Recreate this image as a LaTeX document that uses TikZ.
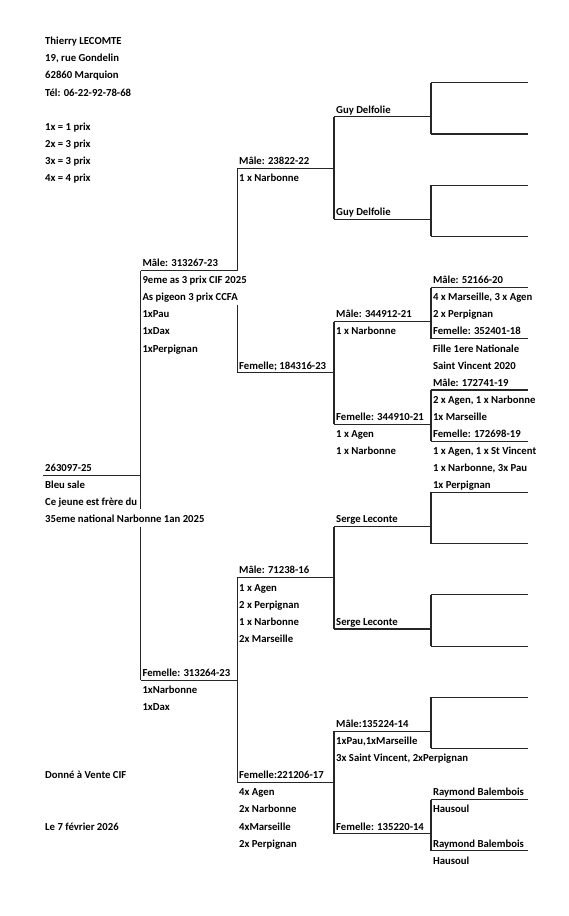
\documentclass[tikz,border=0pt]{standalone}
\usepackage{fontspec}
\setmainfont{Carlito}
\begin{document}
\begin{tikzpicture}[x=1pt,y=-1pt,
  lbl/.style={anchor=base west,inner sep=0pt,font=\fontsize{10.7}{12}\selectfont\bfseries},
  ln/.style={line width=1.1pt,draw=black!85}]
\fill[white] (0,0) rectangle (569,916);
\useasboundingbox (0,0) rectangle (569,916);
\newcommand\txt[4]{\node[lbl] (#1) at (#2,{44.8+17.07*#3}) {#4};}
\newcommand\pt[3]{\coordinate (#1) at (#2,{48.6+17.07*#3});}
% ---------- coordinates of lines
\pt{s}{43.3}{25}
\pt{p}{140.7}{13} \pt{m}{140.7}{37}
\pt{gpa}{140.7}{27} \pt{gpb}{140.7}{28}
\pt{pp}{237.3}{7} \pt{pm}{237.3}{19} \pt{mp}{237.3}{31} \pt{mm}{237.3}{43}
\pt{gqa}{237.3}{13} \pt{gqb}{237.3}{15}
\pt{ppp}{334}{4} \pt{ppm}{334}{10} \pt{pmp}{334}{16} \pt{pmm}{334}{22}
\pt{mpp}{334}{28} \pt{mpm}{334}{34} \pt{mmp}{334}{40} \pt{mmm}{334}{46}
\foreach \k in {1,...,16}{\pgfmathtruncatemacro\r{2+3*(\k-1)}\pt{g\k}{431}{\r}}
\coordinate (e) at (528,0);
% ---------- connectors
\draw[ln] (s) -- (s -| p);
\draw[ln] (p) -- (gpa) (gpb) -- (m);
\draw[ln] (p) -- (p -| pp) (m) -- (m -| mp);
\draw[ln] (pp) -- (gqa) (gqb) -- (pm);
\draw[ln] (mp) -- (mm);
\foreach \a/\b in {pp/ppp,pm/pmp,mp/mpp,mm/mmp}{\draw[ln] (\a) -- (\a -| \b);}
\foreach \a/\b in {ppp/ppm,pmp/pmm,mpp/mpm,mmp/mmm}{\draw[ln] (\a) -- (\b);}
\foreach \a/\b in {ppp/g1,ppm/g3,pmp/g5,pmm/g7,mpp/g9,mpm/g11,mmp/g13,mmm/g15}{\draw[ln] (\a) -- (\a -| \b);}
\foreach \a/\b in {g1/g2,g3/g4,g5/g6,g7/g8,g9/g10,g11/g12,g13/g14,g15/g16}{\draw[ln] (\a) -- (\b);}
\foreach \k in {1,...,16}{\draw[ln] (g\k) -- (g\k -| e);}
% ---------- column 0
\txt{t0}{45}{0}{Thierry LECOMTE}
\txt{t1}{45}{1}{19, rue Gondelin}
\txt{t2}{45}{2}{62860 Marquion}
\txt{t3}{45}{3}{Tél: 06-22-92-78-68}
\txt{t5}{45}{5}{1x = 1 prix}
\txt{t6}{45}{6}{2x = 3 prix}
\txt{t7}{45}{7}{3x = 3 prix}
\txt{t8}{45}{8}{4x = 4 prix}
\txt{s0}{45}{25}{263097-25}
\txt{s1}{45}{26}{Bleu sale}
\txt{s2}{45}{27}{Ce jeune est frère du}
\txt{s3}{45}{28}{35eme national Narbonne 1an 2025}
\txt{d1}{45}{43}{Donné à Vente CIF}
\txt{d2}{45}{46}{Le 7 février 2026}
% ---------- column 1
\txt{p0}{142.3}{13}{Mâle: 313267-23}
\txt{p1}{142.3}{14}{9eme as 3 prix CIF 2025}
\txt{p2}{142.3}{15}{As pigeon 3 prix CCFA}
\txt{p3}{142.3}{16}{1xPau}
\txt{p4}{142.3}{17}{1xDax}
\txt{p5}{142.3}{18}{1xPerpignan}
\txt{m0}{142.3}{37}{Femelle: 313264-23}
\txt{m1}{142.3}{38}{1xNarbonne}
\txt{m2}{142.3}{39}{1xDax}
% ---------- column 2
\txt{pp0}{239}{7}{Mâle: 23822-22}
\txt{pp1}{239}{8}{1 x Narbonne}
\txt{pm0}{239}{19}{Femelle; 184316-23}
\txt{mp0}{239}{31}{Mâle: 71238-16}
\txt{mp1}{239}{32}{1 x Agen}
\txt{mp2}{239}{33}{2 x Perpignan}
\txt{mp3}{239}{34}{1 x Narbonne}
\txt{mp4}{239}{35}{2x Marseille}
\txt{mm0}{239}{43}{Femelle:221206-17}
\txt{mm1}{239}{44}{4x Agen}
\txt{mm2}{239}{45}{2x Narbonne}
\txt{mm3}{239}{46}{4xMarseille}
\txt{mm4}{239}{47}{2x Perpignan}
% ---------- column 3
\txt{ppp0}{336}{4}{Guy Delfolie}
\txt{ppm0}{336}{10}{Guy Delfolie}
\txt{pmp0}{336}{16}{Mâle: 344912-21}
\txt{pmp1}{336}{17}{1 x Narbonne}
\txt{pmm0}{336}{22}{Femelle: 344910-21}
\txt{pmm1}{336}{23}{1 x Agen}
\txt{pmm2}{336}{24}{1 x Narbonne}
\txt{mpp0}{336}{28}{Serge Leconte}
\txt{mpm0}{336}{34}{Serge Leconte}
\txt{mmp0}{336}{40}{Mâle:135224-14}
\txt{mmp1}{336}{41}{1xPau,1xMarseille}
\txt{mmp2}{336}{42}{3x Saint Vincent, 2xPerpignan}
\txt{mmm0}{336}{46}{Femelle: 135220-14}
% ---------- column 4
\txt{q0}{432.8}{14}{Mâle: 52166-20}
\txt{q1}{432.8}{15}{4 x Marseille, 3 x Agen}
\txt{q2}{432.8}{16}{2 x Perpignan}
\txt{q3}{432.8}{17}{Femelle: 352401-18}
\txt{q4}{432.8}{18}{Fille 1ere Nationale}
\txt{q5}{432.8}{19}{Saint Vincent 2020}
\txt{q6}{432.8}{20}{Mâle: 172741-19}
\txt{q7}{432.8}{21}{2 x Agen, 1 x Narbonne}
\txt{q8}{432.8}{22}{1x Marseille}
\txt{q9}{432.8}{23}{Femelle: 172698-19}
\txt{q10}{432.8}{24}{1 x Agen, 1 x St Vincent}
\txt{q11}{432.8}{25}{1 x Narbonne, 3x Pau}
\txt{q12}{432.8}{26}{1x Perpignan}
\txt{r0}{432.8}{44}{Raymond Balembois}
\txt{r1}{432.8}{45}{Hausoul}
\txt{r2}{432.8}{47}{Raymond Balembois}
\txt{r3}{432.8}{48}{Hausoul}
\end{tikzpicture}
\end{document}
